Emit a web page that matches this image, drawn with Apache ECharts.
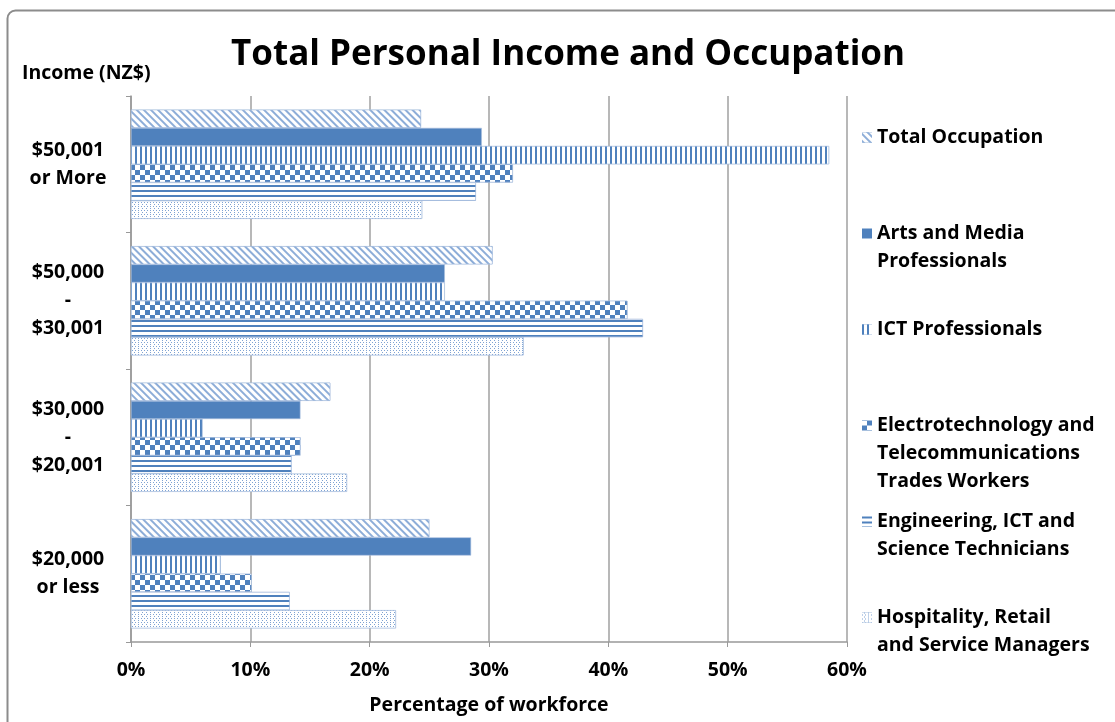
<!DOCTYPE html>
<html>
<head>
<meta charset="utf-8">
<script src="https://cdn.jsdelivr.net/npm/echarts@6/dist/echarts.min.js"></script>
<style>html,body{margin:0;padding:0;background:#fff}#c{width:1115px;height:722px}</style>
</head>
<body>
<div id="c"></div>
<script>
const categories = ['$20,000\nor less', '$30,000\n-\n$20,001', '$50,000\n-\n$30,001', '$50,001\nor More'];
const xTicks = [0, 10, 20, 30, 40, 50, 60];
const seriesNames = ['Total Occupation', 'Arts and Media Professionals', 'ICT Professionals',
  'Electrotechnology and Telecommunications Trades Workers', 'Engineering, ICT and Science Technicians',
  'Hospitality, Retail and Service Managers'];
const legendLabels = ['Total Occupation', 'Arts and Media\nProfessionals', 'ICT Professionals',
  'Electrotechnology and\nTelecommunications\nTrades Workers', 'Engineering, ICT and\nScience Technicians',
  'Hospitality, Retail\nand Service Managers'];
const totalOccupation = [25.0, 16.7, 30.3, 24.3];
const artsMedia = [28.5, 14.2, 26.3, 29.4];
const ictProf = [7.5, 6.0, 26.3, 58.5];
const electroTele = [10.1, 14.2, 41.6, 32.0];
const engTech = [13.3, 13.45, 42.9, 28.9];
const hospRetail = [22.2, 18.1, 32.9, 24.4];
const values = [totalOccupation, artsMedia, ictProf, electroTele, engTech, hospRetail];

const BLUE = '#4F81BD';
const decals = [
  {symbol:'rect', color:'#8DADD8', backgroundColor:'#fff', dashArrayX:[1,0], dashArrayY:[1.5,2.3], rotation:Math.PI/4},
  null,
  {symbol:'rect', color:BLUE, backgroundColor:'#fff', dashArrayX:[1.6,3], dashArrayY:[1,0], rotation:0},
  {symbol:'rect', color:BLUE, backgroundColor:'#fff', dashArrayX:[[4.5,4.5],[0,4.5,4.5,0]], dashArrayY:[4.5,0], rotation:0},
  {symbol:'rect', color:BLUE, backgroundColor:'#fff', dashArrayX:[1,0], dashArrayY:[2,2.4], rotation:0},
  {symbol:'rect', color:'#7FA3D3', backgroundColor:'#fff', dashArrayX:[[1,1.5],[0,1.25,1,0.25]], dashArrayY:[1,1], rotation:0}
];

const font = 'Open Sans';
const FS = 19.5;
const LH = 27.5;
const iconCenters = [136, 232, 328, 424, 520, 616];
const TEXT_X = 879;

const legends = seriesNames.map((n, i) => {
  const first = legendLabels[i].split('\n')[0];
  return {
    data: [n], left: TEXT_X - 17, top: iconCenters[i] - LH / 2 + 1.5, padding: 0,
    itemWidth: 10, itemHeight: 10, icon: 'rect', orient: 'vertical',
    itemStyle: {borderWidth: 0},
    formatter: () => first,
    textStyle: {fontFamily: font, fontWeight: 'bold', fontSize: FS, color: '#000', lineHeight: LH}
  };
});
const extraLegendText = [];
legendLabels.forEach((lab, i) => {
  lab.split('\n').slice(1).forEach((line, k) => {
    extraLegendText.push({type: 'text', left: TEXT_X - 2, top: iconCenters[i] + (k + 1) * LH - FS * 0.7 + 6,
      style: {text: line, font: 'bold ' + FS + 'px "Open Sans"', fill: '#000'}, silent: true});
  });
});

const series = seriesNames.map((n, i) => ({
  name: n, type: 'bar', data: values[i], barGap: '0%', barCategoryGap: '20%',
  itemStyle: Object.assign({color: BLUE, borderColor: '#A9C0DF', borderWidth: 0.6},
    decals[i] ? {decal: decals[i]} : {}),
  emphasis: {disabled: true}
}));

const chart = echarts.init(document.getElementById('c'), null, {renderer: 'canvas'});
chart.setOption({
  backgroundColor: '#fff',
  animation: false,
  aria: {enabled: false, decal: {show: false}},
  title: {text: 'Total Personal Income and Occupation', left: 231, top: 38, padding: 0,
    textStyle: {fontFamily: font, fontWeight: 'bold', fontSize: 35, color: '#000'}},
  legend: legends,
  grid: {left: 131, right: 268, top: 96, bottom: 80, containLabel: false},
  xAxis: {
    type: 'value', min: 0, max: 60, interval: 10,
    name: 'Percentage of workforce', nameLocation: 'middle', nameGap: 53,
    nameTextStyle: {fontFamily: font, fontWeight: 'bold', fontSize: FS, color: '#000'},
    axisLine: {show: true, lineStyle: {color: '#999', width: 1.5}},
    axisTick: {show: true, length: 5, lineStyle: {color: '#999'}},
    axisLabel: {margin: 18, fontFamily: font, fontWeight: 'bold', fontSize: FS, color: '#000',
      formatter: v => xTicks.includes(v) ? v + '%' : ''},
    splitLine: {show: true, lineStyle: {color: '#A0A0A0', width: 1.5}}
  },
  yAxis: {
    type: 'category', data: categories,
    axisLine: {show: true, lineStyle: {color: '#999', width: 1.5}},
    axisTick: {show: true, length: 5, lineStyle: {color: '#999'}},
    axisLabel: {margin: 63, align: 'center', fontFamily: font, fontWeight: 'bold', fontSize: FS,
      color: '#000', lineHeight: 28}
  },
  graphic: [
    {type: 'rect', left: 5, top: 8, shape: {width: 1140, height: 740, r: 8},
      style: {fill: null, stroke: '#8C8C8C', lineWidth: 2}, silent: true},
    {type: 'text', left: 22, top: 63, style: {text: 'Income (NZ$)', font: 'bold 19.5px "Open Sans"', fill: '#000'}}
  ].concat(extraLegendText),
  series: series
});
</script>
</body>
</html>
